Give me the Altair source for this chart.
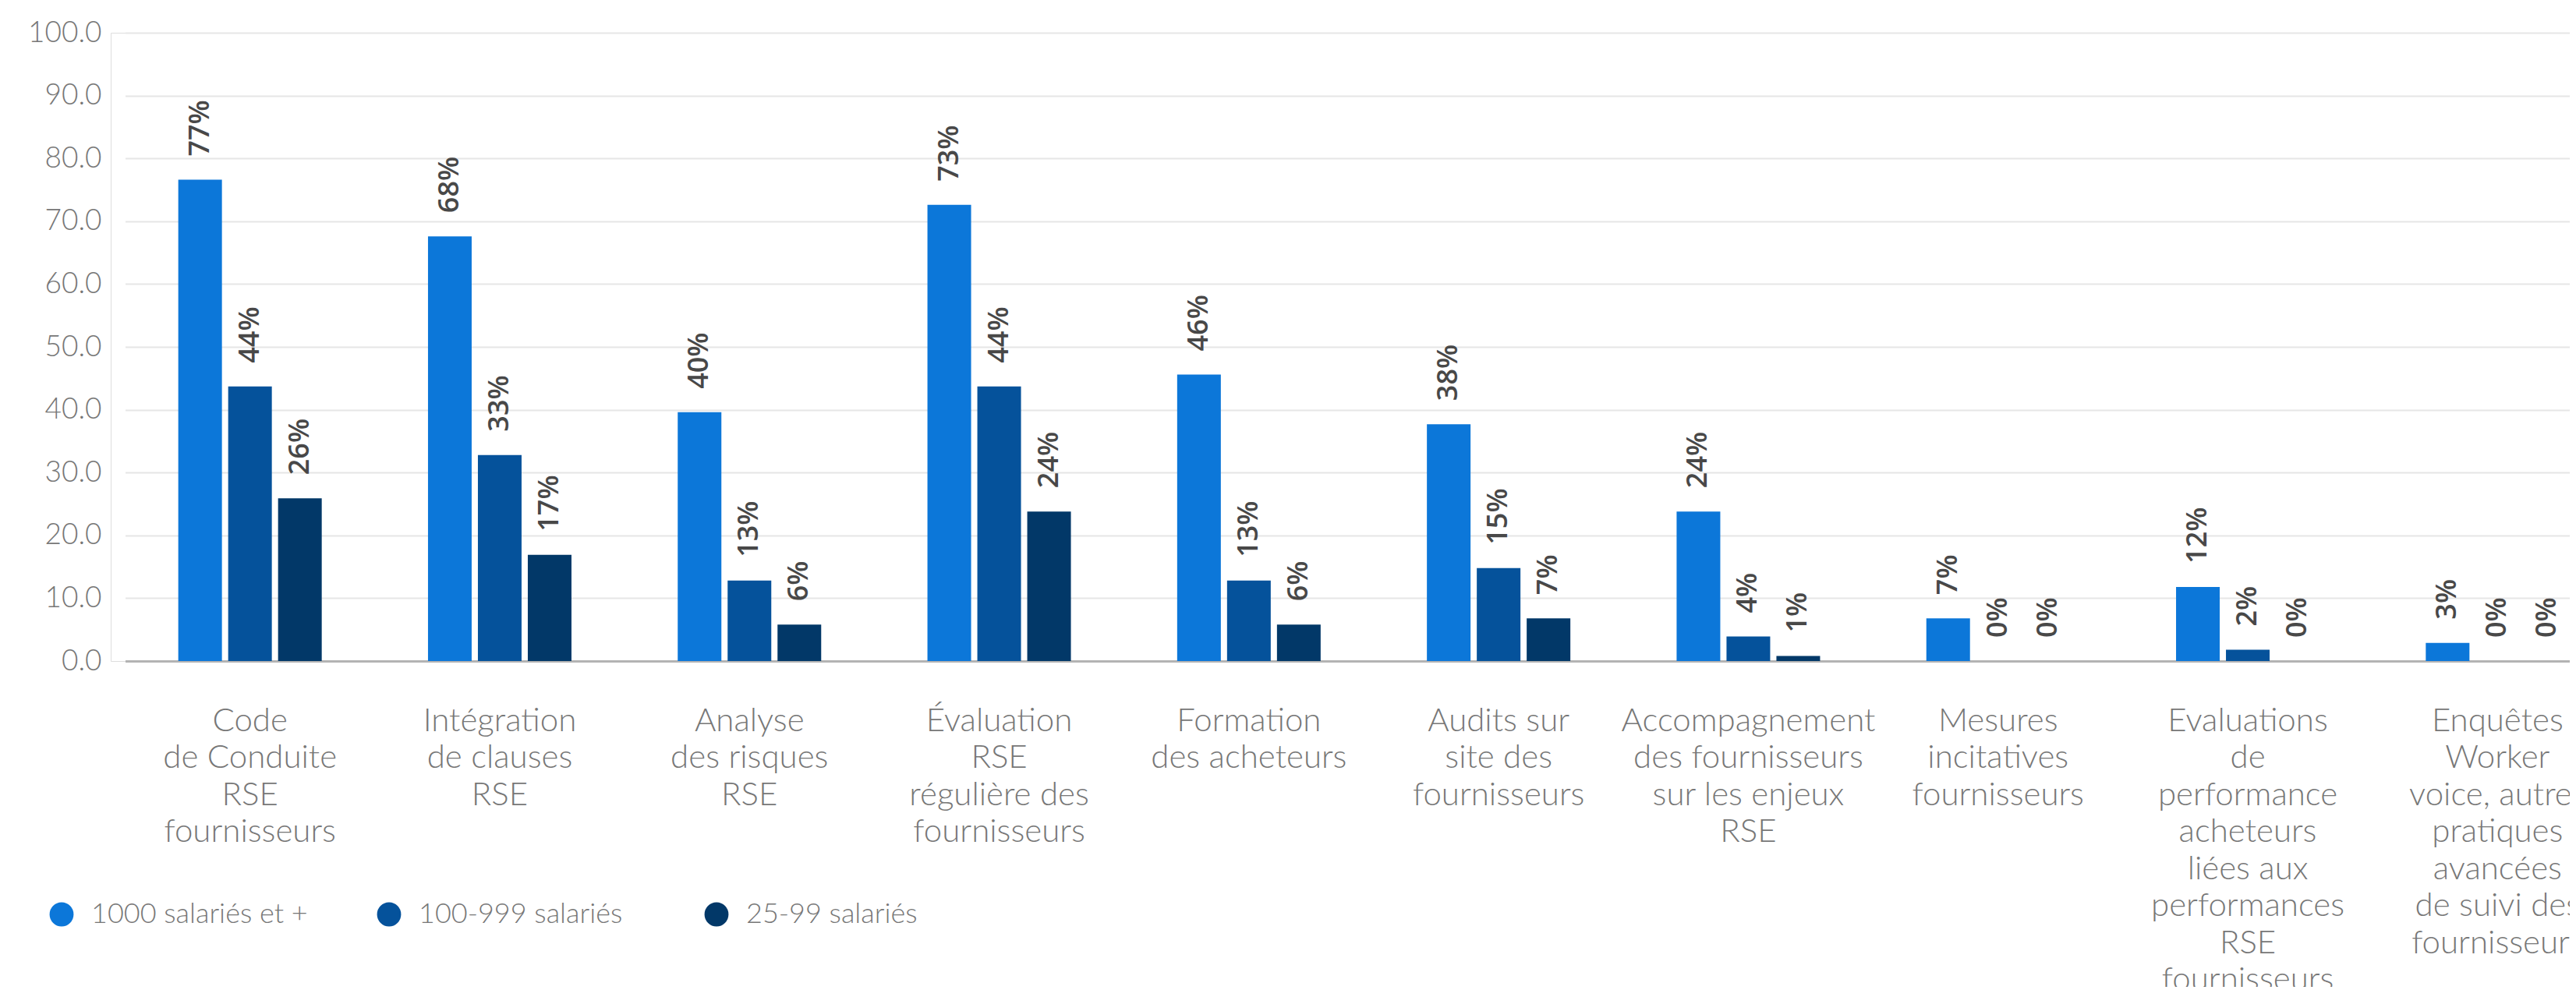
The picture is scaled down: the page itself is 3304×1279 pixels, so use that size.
import altair as alt
import pandas as pd

categories = [
    "Code|de Conduite|RSE|fournisseurs",
    "Intégration|de clauses|RSE",
    "Analyse|des risques|RSE",
    "Évaluation|RSE|régulière des|fournisseurs",
    "Formation|des acheteurs",
    "Audits sur|site des|fournisseurs",
    "Accompagnement|des fournisseurs|sur les enjeux|RSE",
    "Mesures|incitatives|fournisseurs",
    "Evaluations|de|performance|acheteurs|liées aux|performances|RSE|fournisseurs",
    "Enquêtes|Worker|voice, autres|pratiques|avancées|de suivi des|fournisseurs",
]
series = ["1000 salariés et +", "100-999 salariés", "25-99 salariés"]
colors = ["#0c77d9", "#05529b", "#023868"]

v_1000 = [76.6, 67.6, 39.6, 72.6, 45.6, 37.7, 23.8, 6.8, 11.8, 2.9]
v_100 = [43.7, 32.8, 12.8, 43.7, 12.8, 14.8, 3.9, 0.0, 1.8, 0.0]
v_25 = [25.9, 16.9, 5.8, 23.8, 5.8, 6.8, 0.8, 0.0, 0.0, 0.0]

y_ticks = [0, 10, 20, 30, 40, 50, 60, 70, 80, 90, 100]

rows = []
for s, vals in zip(series, [v_1000, v_100, v_25]):
    for c, v in zip(categories, vals):
        rows.append({"cat": c, "serie": s, "value": v})
df = pd.DataFrame(rows)

FONT = "Lato"
GRAY = "#777777"

x_enc = alt.X(
    "cat:N",
    sort=categories,
    scale=alt.Scale(range=[18.5, 3221.5], paddingInner=0.4255, paddingOuter=0.2128),
    axis=alt.Axis(
        title=None,
        labelExpr="split(datum.label, '|')",
        labelAngle=0,
        labelFont=FONT,
        labelFontWeight=300,
        labelFontSize=42,
        labelColor=GRAY,
        labelLineHeight=47.5,
        labelPadding=56,
        labelLimit=1000,
        labelOverlap=False,
        ticks=False,
        domain=False,
        grid=False,
    ),
)
xoff_enc = alt.XOffset(
    "serie:N", sort=series, scale=alt.Scale(paddingInner=0.125, paddingOuter=0)
)
y_enc = alt.Y(
    "value:Q",
    scale=alt.Scale(domain=[0, 100], nice=False),
    axis=alt.Axis(
        title=None,
        values=y_ticks,
        format=".1f",
        labelFont=FONT,
        labelFontWeight=300,
        labelFontSize=37,
        labelColor=GRAY,
        labelPadding=12,
        ticks=False,
        domain=False,
        grid=True,
        gridColor=alt.condition("datum.value === 0", alt.value("#b3b3b3"), alt.value("#e6e6e6")),
        gridWidth=alt.condition("datum.value === 0", alt.value(3), alt.value(2)),
    ),
)

base = alt.Chart(df).encode(x=x_enc, xOffset=xoff_enc, y=y_enc)

bars = base.mark_bar().encode(
    color=alt.Color(
        "serie:N",
        sort=series,
        scale=alt.Scale(domain=series, range=colors),
        legend=alt.Legend(
            title=None,
            orient="none",
            legendX=-81,
            legendY=1113,
            direction="horizontal",
            columns=3,
            gridAlign="all",
            columnPadding=86,
            symbolType="circle",
            symbolSize=950,
            symbolStrokeWidth=0,
            labelFont=FONT,
            labelFontWeight=300,
            labelFontSize=36,
            labelColor=GRAY,
            labelOffset=20,
            labelLimit=1000,
        ),
    )
)

labels = base.transform_calculate(
    label="format(datum.value, '.0f') + '%'"
).mark_text(
    angle=270,
    align="left",
    baseline="middle",
    dx=30,
    font="Open Sans",
    fontWeight=600,
    fontSize=36,
    color="#484848",
).encode(text="label:N")

chart = (
    alt.layer(bars, labels)
    .properties(
        width=3154,
        height=806,
        autosize=alt.AutoSizeParams(type="none"),
        padding={"left": 134, "top": 34, "right": 0, "bottom": 418},
    )
    .configure_view(stroke=None)
    .configure(background="white")
)

chart.save("out.html", embed_options={"renderer": "svg", "actions": False})
